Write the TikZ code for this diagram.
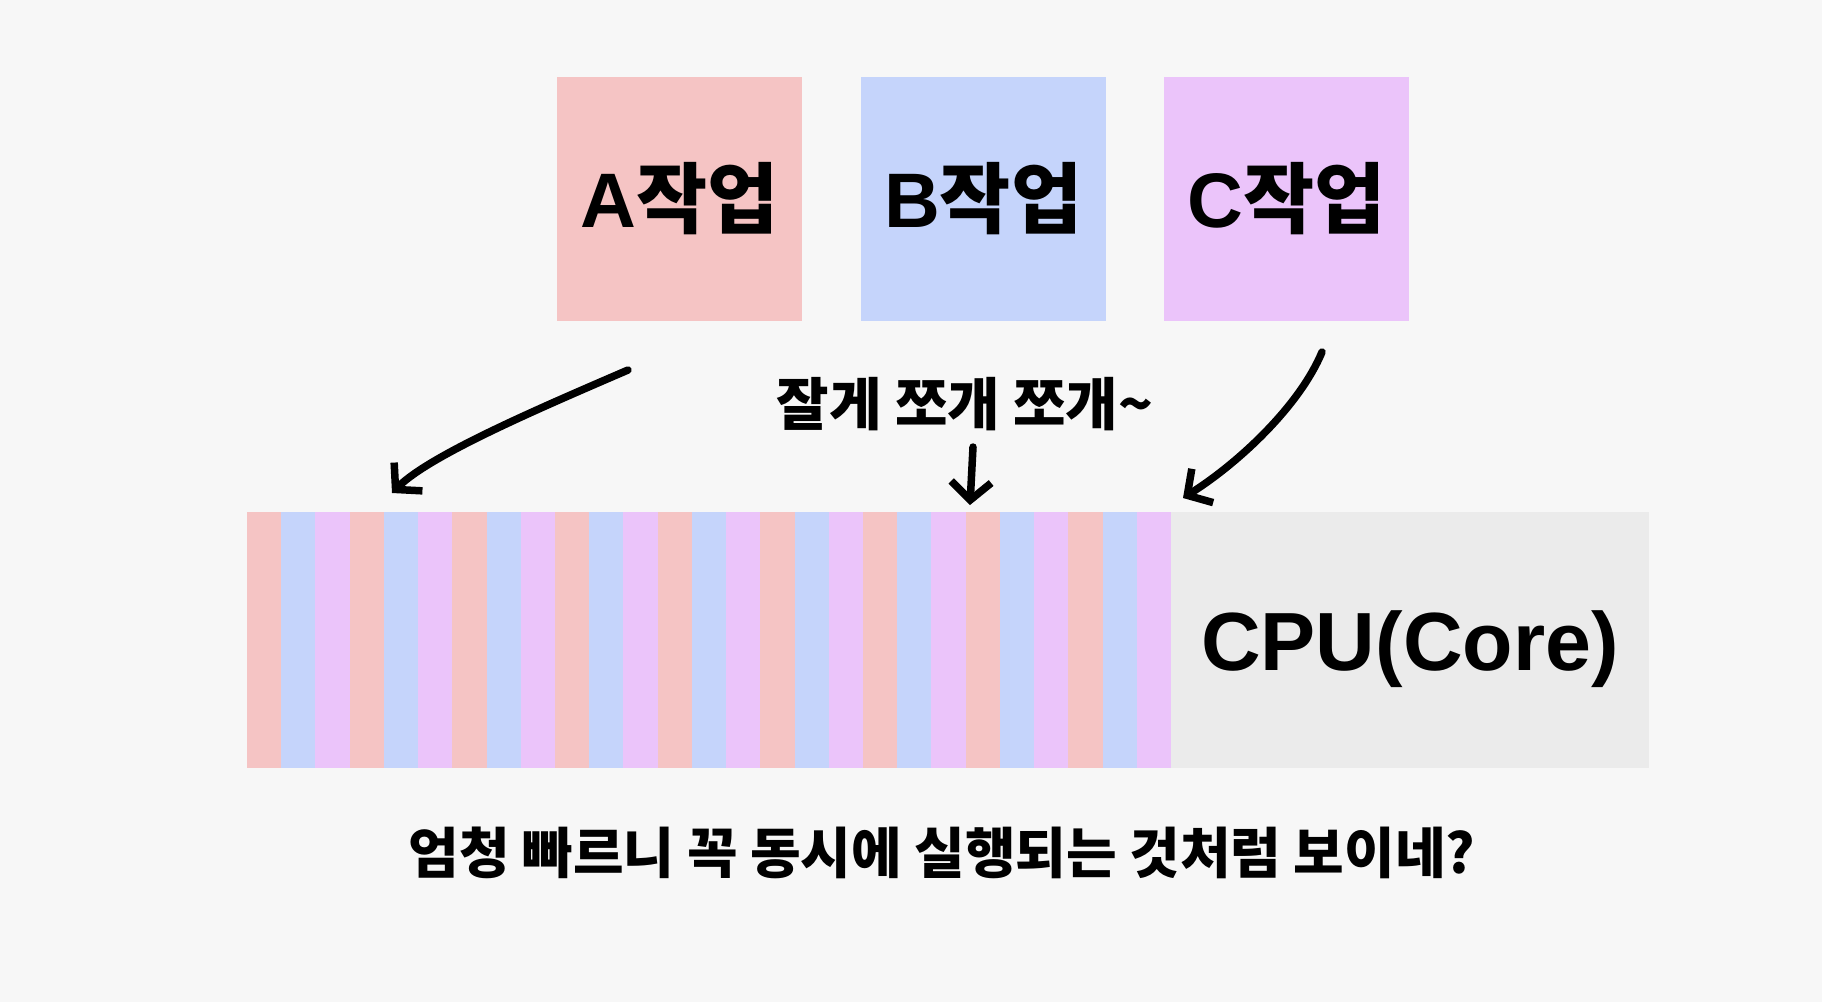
\documentclass[tikz,border=0pt]{standalone}
\usepackage{fontspec}
\setmainfont{Liberation Sans}
\newfontfamily\krfont{Noto Sans CJK KR}
\usetikzlibrary{positioning,arrows.meta}

\definecolor{bgcol}{HTML}{F7F7F7}
\definecolor{taskAcol}{HTML}{F5C4C4}
\definecolor{taskBcol}{HTML}{C5D4FB}
\definecolor{taskCcol}{HTML}{EBC4FA}
\definecolor{corecol}{HTML}{EBEBEB}

\begin{document}
\begin{tikzpicture}[
  x=0.02cm, y=-0.02cm,
  node distance = 1.16cm,
  task/.style  = {minimum width=4.9cm, minimum height=4.9cm, inner sep=0pt,
                  font=\fontsize{44}{48}\selectfont\bfseries},
  core/.style  = {fill=corecol, minimum width=9.56cm, minimum height=5.12cm,
                  inner sep=0pt, font=\fontsize{47}{52}\selectfont\bfseries},
  note/.style  = {inner sep=0pt, font=\krfont\bfseries\fontsize{32.5}{36}\selectfont},
  hand/.style  = {line width=0.15cm, line cap=round, line join=round,
                  -{Straight Barb[length=3.6mm, width=8mm]}},
]
\fill[bgcol] (0,0) rectangle (1822,1002);
\useasboundingbox (0,0) rectangle (1822,1002);
% three jobs
\node[task, fill=taskAcol] (taskA) at (679.5,199) {A\krfont 작업};
\node[task, fill=taskBcol, right=of taskA] (taskB) {B\krfont 작업};
\node[task, fill=taskCcol, right=of taskB] (taskC) {C\krfont 작업};
% time slices on the core
\fill[corecol] (1160,512) rectangle (1649,768);
\node[core, anchor=base, minimum height=0pt, fill=none] (cpu) at (1410,670) {CPU(Core)};
\foreach \k in {0,...,8}
  \foreach \c [count=\j from 0] in {taskAcol,taskBcol,taskCcol}
    \fill[\c] ({247+34.22*(3*\k+\j)},512) rectangle ++(34.6,256);
% labels
\node[note] (slice) at (965,404) {잘게 쪼개 쪼개\textasciitilde};
\node[note, font=\krfont\bfseries\fontsize{31.3}{35}\selectfont] (remark)
     at (942,853) {엄청 빠르니 꼭 동시에 실행되는 것처럼 보이네?};
% arrows
\coordinate (leftTail) at (628,370);
\coordinate (leftTip) at (392,493);
\coordinate (midTail) at (973,447);
\coordinate (midTip) at (970,505);
\coordinate (rightTail) at (1322,352);
\coordinate (rightTip) at (1183,498);
\draw[hand] (leftTail) .. controls (540,408) and (430,455) .. (leftTip);
\draw[hand] (midTail) -- (midTip);
\draw[hand] (rightTail) .. controls (1300,405) and (1240,462) .. (rightTip);
\end{tikzpicture}
\end{document}
